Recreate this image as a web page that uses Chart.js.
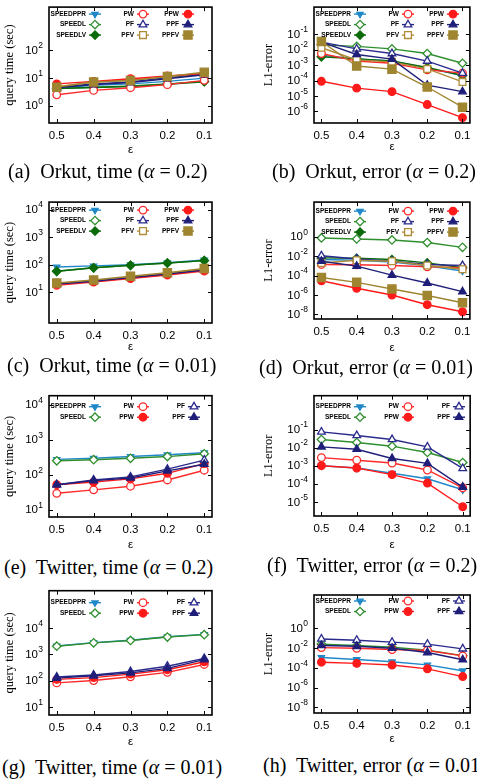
<!DOCTYPE html>
<html>
<head>
<meta charset="utf-8">
<script src="https://cdn.jsdelivr.net/npm/chart.js@4.4.1/dist/chart.umd.min.js"></script>
<style>
  body { margin: 0; background: #fff; }
  #page { position: relative; width: 477px; height: 779px; overflow: hidden; }
  canvas { position: absolute; }
  .cap { position: absolute; font-family: 'Liberation Serif', serif; font-size: 20px; line-height: 20px; white-space: nowrap; color: #000; }
</style>
</head>
<body>
<div id="page">
  <canvas id="chartA"></canvas>
  <canvas id="chartB"></canvas>
  <canvas id="chartC"></canvas>
  <canvas id="chartD"></canvas>
  <canvas id="chartE"></canvas>
  <canvas id="chartF"></canvas>
  <canvas id="chartG"></canvas>
  <canvas id="chartH"></canvas>
  <div class="cap" style="left:8px;top:161px">(a)&nbsp; Orkut, time (<i>α</i> = 0.2)</div>
  <div class="cap" style="left:272px;top:161px">(b)&nbsp; Orkut, error (<i>α</i> = 0.2)</div>
  <div class="cap" style="left:7px;top:355px">(c)&nbsp; Orkut, time (<i>α</i> = 0.01)</div>
  <div class="cap" style="left:259px;top:357px">(d)&nbsp; Orkut, error (<i>α</i> = 0.01)</div>
  <div class="cap" style="left:4px;top:557px">(e)&nbsp; Twitter, time (<i>α</i> = 0.2)</div>
  <div class="cap" style="left:267px;top:555px">(f)&nbsp; Twitter, error (<i>α</i> = 0.2)</div>
  <div class="cap" style="left:2px;top:757px">(g)&nbsp; Twitter, time (<i>α</i> = 0.01)</div>
  <div class="cap" style="left:263px;top:755px">(h)&nbsp; Twitter, error (<i>α</i> = 0.01)</div>
</div>
<script>
const eps = [0.5, 0.4, 0.3, 0.2, 0.1];
const xTicks = [0.5, 0.4, 0.3, 0.2, 0.1];

const names9 = ['SPEEDPPR', 'SPEEDL', 'SPEEDLV', 'PW', 'PF', 'PFV', 'PPW', 'PPF', 'PPFV'];
const names6 = ['SPEEDPPR', 'SPEEDL', 'PW', 'PPW', 'PF', 'PPF'];

// (a) Orkut, query time (sec), alpha = 0.2
const aSPEEDPPR = [4.5, 5.5, 6.2, 7.6, 10];
const aSPEEDL = [4.2, 4.7, 5.2, 6.2, 7.6];
const aSPEEDLV = [4.2, 4.6, 5.0, 6.0, 7.4];
const aPW = [2.5, 3.6, 4.5, 5.8, 8.3];
const aPF = [4.7, 6.2, 7.2, 10.5, 13.8];
const aPFV = [4.9, 7.2, 8.5, 11.2, 15];
const aPPW = [6.2, 7.6, 9.5, 12, 14.5];
const aPPF = [4.5, 5.8, 6.9, 9.5, 13.2];
const aPPFV = [4.7, 7.2, 8.1, 11.5, 16.2];

// (b) Orkut, L1-error, alpha = 0.2
const bSPEEDPPR = [4.3e-3, 2.5e-3, 1.8e-3, 6.3e-4, 2.1e-4];
const bSPEEDL = [2.0e-2, 1.6e-2, 1.1e-2, 5.5e-3, 1.3e-3];
const bSPEEDLV = [3.4e-3, 2.5e-3, 1.8e-3, 6.9e-4, 2.1e-4];
const bPW = [5.5e-3, 1.8e-3, 1.3e-3, 4.9e-4, 3.0e-4];
const bPF = [3.0e-2, 1.1e-2, 5.5e-3, 1.8e-3, 3.0e-4];
const bPFV = [1.3e-2, 2.1e-3, 1.6e-3, 5.6e-4, 8.1e-5];
const bPPW = [8.9e-5, 3.2e-5, 1.9e-5, 2.8e-6, 4.0e-7];
const bPPF = [3.0e-2, 4.8e-3, 2.4e-3, 5.0e-5, 1.9e-5];
const bPPFV = [3.3e-2, 8.7e-4, 5.4e-4, 3.8e-5, 1.9e-6];

// (c) Orkut, query time (sec), alpha = 0.01
const cSPEEDPPR = [83, 91, 100, 120, 151];
const cSPEEDL = [58, 78, 95, 115, 141];
const cSPEEDLV = [58, 78, 96, 116, 142];
const cPW = [18, 23.5, 31.6, 42.7, 59];
const cPF = [20.4, 26, 35.5, 48, 66];
const cPFV = [21, 26.8, 36.5, 49.5, 70];
const cPPW = [19.5, 24.5, 33, 44.7, 63];
const cPPF = [20, 25.3, 34.4, 46.5, 64];
const cPPFV = [22, 28, 38.3, 51.7, 73.5];

// (d) Orkut, L1-error, alpha = 0.01
const dSPEEDPPR = [4.5e-3, 3.8e-3, 2.4e-3, 1.0e-3, 3.0e-4];
const dSPEEDL = [0.74, 0.58, 0.46, 0.25, 0.08];
const dSPEEDLV = [6.6e-3, 6.0e-3, 4.5e-3, 2.0e-3, 6.3e-4];
const dPW = [1.4e-3, 1.3e-3, 1.1e-3, 8.1e-4, 6.5e-4];
const dPF = [1.1e-2, 5.1e-3, 3.0e-3, 1.4e-3, 1.1e-3];
const dPFV = [2.0e-3, 3.8e-3, 3.0e-3, 1.1e-3, 4.4e-4];
const dPPW = [2.9e-5, 4.9e-6, 1.0e-6, 1.0e-7, 1.9e-8];
const dPPF = [3.0e-3, 9.3e-4, 1.1e-4, 1.7e-5, 2.2e-6];
const dPPFV = [6.3e-5, 2.0e-5, 4.2e-6, 8.9e-7, 1.6e-7];

// (e) Twitter, query time (sec), alpha = 0.2
const eSPEEDPPR = [275, 295, 331, 372, 427];
const eSPEEDL = [251, 269, 295, 331, 398];
const ePW = [29.5, 37, 47, 71, 135];
const ePPW = [52, 62, 76, 110, 209];
const ePF = [52, 71, 87, 145, 263];
const ePPF = [52, 68, 81, 129, 200];

// (f) Twitter, L1-error, alpha = 0.2
const fSPEEDPPR = [1.0e-3, 7.4e-4, 3.8e-4, 1.9e-4, 4.7e-5];
const fSPEEDL = [2.8e-2, 1.9e-2, 1.2e-2, 5.4e-3, 1.5e-3];
const fPW = [2.8e-3, 2.0e-3, 1.4e-3, 5.8e-4, 6.0e-5];
const fPPW = [1.0e-3, 7.4e-4, 3.2e-4, 1.1e-4, 5.4e-6];
const fPF = [7.4e-2, 4.7e-2, 2.8e-2, 1.1e-2, 7.1e-4];
const fPPF = [1.1e-2, 8.1e-3, 2.5e-3, 1.35e-3, 6.6e-5];

// (g) Twitter, query time (sec), alpha = 0.01
const gSPEEDPPR = [2040, 2750, 3390, 4570, 5620];
const gSPEEDL = [2000, 2690, 3310, 4470, 5500];
const gPW = [81, 100, 138, 204, 407];
const gPPW = [110, 129, 174, 257, 513];
const gPF = [135, 162, 219, 347, 692];
const gPPF = [123, 151, 195, 288, 617];

// (h) Twitter, L1-error, alpha = 0.01
const hSPEEDPPR = [1.1e-3, 6.9e-4, 4.1e-4, 2.0e-4, 5.0e-5];
const hSPEEDL = [2.5e-2, 1.8e-2, 1.2e-2, 6.0e-3, 1.7e-3];
const hPW = [1.1e-2, 9.5e-3, 7.1e-3, 5.6e-3, 1.6e-3];
const hPPW = [3.7e-4, 2.8e-4, 1.9e-4, 7.9e-5, 1.3e-5];
const hPF = [8.3e-2, 6.2e-2, 3.9e-2, 2.5e-2, 8.3e-3];
const hPPF = [1.8e-2, 1.5e-2, 9.5e-3, 3.5e-3, 6.5e-4];

// y tick labels (powers of ten)
const ticksA = [1, 10, 100];
const ticksB = [1e-6, 1e-5, 1e-4, 1e-3, 1e-2, 1e-1];
const ticksC = [10, 100, 1000, 10000];
const ticksD = [1e-8, 1e-6, 1e-4, 1e-2, 1];
const ticksE = [10, 100, 1000, 10000];
const ticksF = [1e-5, 1e-4, 1e-3, 1e-2, 1e-1];
const ticksG = [10, 100, 1000, 10000];
const ticksH = [1e-8, 1e-6, 1e-4, 1e-2, 1];

const styles = {
  SPEEDPPR: { color: '#1f88c9', point: 'triangle', rot: 180, r: 3.6, fill: true },
  SPEEDL:   { color: '#2f8f2f', point: 'rectRot', r: 4.2, fill: false },
  SPEEDLV:  { color: '#0b6b0b', point: 'rectRot', r: 4.2, fill: true },
  PW:       { color: '#ff2a2a', point: 'circle', r: 3.8, fill: false },
  PPW:      { color: '#ff1a1a', point: 'circle', r: 3.8, fill: true },
  PF:       { color: '#2a2a8c', point: 'triangle', r: 4.4, fill: false },
  PPF:      { color: '#1f1f7a', point: 'triangle', r: 4.4, fill: true },
  PFV:      { color: '#b08c38', point: 'rect', r: 4.8, fill: false },
  PPFV:     { color: '#a08530', point: 'rect', r: 5.8, fill: true }
};

const FONT = '"Liberation Sans", Arial, sans-serif';

function series(name, values, i) {
  const s = styles[name];
  return {
    label: name,
    data: eps.map((e, k) => ({ x: e, y: values[k] })),
    borderColor: s.color,
    backgroundColor: s.color,
    borderWidth: 1.4,
    pointStyle: s.point,
    pointRotation: s.rot || 0,
    pointRadius: s.r,
    pointBorderWidth: 1.3,
    pointBorderColor: s.color,
    pointBackgroundColor: s.fill ? s.color : '#fff',
    order: -i
  };
}

// box around the plot, inward tick marks and 10^n labels on the y scale
const frame = {
  id: 'frame',
  afterDatasetsDraw(chart, args, opts) {
    const { ctx, chartArea: a, scales } = chart;
    ctx.save();
    ctx.strokeStyle = '#000';
    ctx.lineWidth = 1;
    ctx.beginPath();
    scales.y.ticks.forEach(t => {
      const y = Math.round(scales.y.getPixelForValue(t.value)) + 0.5;
      ctx.moveTo(a.left, y); ctx.lineTo(a.left + 4, y);
      ctx.moveTo(a.right, y); ctx.lineTo(a.right - 4, y);
    });
    scales.x.ticks.forEach(t => {
      const x = Math.round(scales.x.getPixelForValue(t.value)) + 0.5;
      ctx.moveTo(x, a.bottom); ctx.lineTo(x, a.bottom - 4);
      ctx.moveTo(x, a.top); ctx.lineTo(x, a.top + 4);
    });
    ctx.stroke();
    ctx.lineWidth = 1.6;
    ctx.strokeRect(a.left, a.top, a.right - a.left, a.bottom - a.top);

    ctx.fillStyle = '#000';
    ctx.textAlign = 'right';
    ctx.textBaseline = 'middle';
    scales.y.ticks.forEach(t => {
      const y = scales.y.getPixelForValue(t.value);
      const e = String(Math.round(Math.log10(t.value)));
      const xr = a.left - opts.pad;
      ctx.font = '8.5px ' + FONT;
      const ew = ctx.measureText(e).width;
      ctx.fillText(e, xr, y - 4.5);
      ctx.font = '11.5px ' + FONT;
      ctx.fillText('10', xr - ew - 0.3, y + 0.5);
    });
    ctx.restore();
  }
};

// gnuplot style key inside the plot: label, then line sample with marker
const boxLegend = {
  id: 'boxLegend',
  afterDatasetsDraw(chart, args, opts) {
    const { ctx, chartArea: a } = chart;
    ctx.save();
    ctx.font = 'bold 6.5px ' + FONT;
    ctx.textAlign = 'right';
    ctx.textBaseline = 'middle';
    chart.data.datasets.forEach((ds, i) => {
      const col = Math.floor(i / opts.rows);
      const row = i % opts.rows;
      const tx = a.left + opts.cols[col];
      const ty = a.top + opts.top + row * 10.5;
      ctx.fillStyle = '#000';
      ctx.fillText(ds.label, tx, ty);
      ctx.strokeStyle = ds.borderColor;
      ctx.lineWidth = 1.4;
      ctx.beginPath();
      ctx.moveTo(tx + 3, ty);
      ctx.lineTo(tx + 15, ty);
      ctx.stroke();
      ctx.fillStyle = ds.pointBackgroundColor;
      ctx.lineWidth = 1.3;
      Chart.helpers.drawPoint(ctx, {
        pointStyle: ds.pointStyle, rotation: ds.pointRotation,
        radius: ds.pointRadius, borderWidth: 1.3
      }, tx + 9, ty);
    });
    ctx.restore();
  }
};

const H = 165;

function drawPanel(p) {
  const canvas = document.getElementById(p.id);
  canvas.width = p.w;
  canvas.height = H;
  canvas.style.left = p.left + 'px';
  canvas.style.top = p.top + 'px';
  const [bl, bt, br, bb] = p.box;
  const xh = p.epsY - bb + 6.9;
  const names = p.values.length === 9 ? names9 : names6;

  new Chart(canvas, {
    type: 'line',
    data: { datasets: names.map((n, i) => series(n, p.values[i], i)) },
    options: {
      responsive: false,
      animation: false,
      events: [],
      layout: { padding: { left: 0, top: bt, right: p.w - br, bottom: H - bb - xh } },
      plugins: {
        legend: { display: false },
        tooltip: { enabled: false },
        frame: { pad: 6 },
        boxLegend: { rows: names.length === 9 ? 3 : 2, cols: names.length === 9 ? [37, 85, 130] : [37, 85, 136], top: p.legTop }
      },
      scales: {
        x: {
          type: 'linear',
          reverse: true,
          min: 0.079,
          max: 0.521,
          bounds: 'data',
          grid: { display: false, drawTicks: false },
          border: { display: false },
          afterBuildTicks: s => { s.ticks = xTicks.map(v => ({ value: v })); },
          afterFit: s => { s.height = xh; },
          ticks: {
            callback: v => v.toFixed(1),
            color: '#000',
            padding: 6,
            autoSkip: false,
            maxRotation: 0,
            font: { family: FONT, size: 11.5 }
          },
          title: {
            display: true,
            text: 'ε',
            color: '#000',
            padding: 0,
            font: { family: FONT, size: 11.5 }
          }
        },
        y: {
          type: 'logarithmic',
          min: p.yMin,
          max: p.yMax,
          bounds: 'data',
          grid: { display: false, drawTicks: false },
          border: { display: false },
          afterBuildTicks: s => { s.ticks = p.ticks.map(v => ({ value: v })); },
          afterFit: s => { s.width = bl; },
          ticks: { display: false },
          title: {
            display: true,
            text: p.yTitle,
            color: '#000',
            padding: { top: p.titleX - 7.5, bottom: 0 },
            font: { family: 'Liberation Serif', size: 12.5 }
          }
        }
      }
    },
    plugins: [frame, boxLegend]
  });
}

drawPanel({ id: 'chartA', left: 0, top: 0, w: 237, box: [49, 4, 212, 123], epsY: 150, legTop: 7,
  yMin: 0.24, yMax: 3630, ticks: ticksA, titleX: 10, yTitle: 'query time (sec)',
  values: [aSPEEDPPR, aSPEEDL, aSPEEDLV, aPW, aPF, aPFV, aPPW, aPPF, aPPFV] });

drawPanel({ id: 'chartB', left: 237, top: 0, w: 240, box: [77, 4, 239, 123], epsY: 147, legTop: 7,
  yMin: 1.8e-7, yMax: 5.5, ticks: ticksB, titleX: 32, yTitle: 'L1-error',
  values: [bSPEEDPPR, bSPEEDL, bSPEEDLV, bPW, bPF, bPFV, bPPW, bPPF, bPPFV] });

drawPanel({ id: 'chartC', left: 0, top: 195, w: 237, box: [49, 5, 212, 128], epsY: 152, legTop: 8,
  yMin: 0.78, yMax: 18600, ticks: ticksC, titleX: 10, yTitle: 'query time (sec)',
  values: [cSPEEDPPR, cSPEEDL, cSPEEDLV, cPW, cPF, cPFV, cPPW, cPPF, cPPFV] });

drawPanel({ id: 'chartD', left: 237, top: 195, w: 240, box: [77, 5, 239, 124], epsY: 153, legTop: 9,
  yMin: 3.4e-9, yMax: 3630, ticks: ticksD, titleX: 32, yTitle: 'L1-error',
  values: [dSPEEDPPR, dSPEEDL, dSPEEDLV, dPW, dPF, dPFV, dPPW, dPPF, dPPFV] });

drawPanel({ id: 'chartE', left: 0, top: 390, w: 237, box: [49, 4, 212, 127], epsY: 155, legTop: 11,
  yMin: 6.2, yMax: 18200, ticks: ticksE, titleX: 10, yTitle: 'query time (sec)',
  values: [eSPEEDPPR, eSPEEDL, ePW, ePPW, ePF, ePPF] });

drawPanel({ id: 'chartF', left: 237, top: 390, w: 240, box: [77, 4, 239, 126], epsY: 155, legTop: 11,
  yMin: 1.66e-6, yMax: 7.4, ticks: ticksF, titleX: 32, yTitle: 'L1-error',
  values: [fSPEEDPPR, fSPEEDL, fPW, fPPW, fPF, fPPF] });

drawPanel({ id: 'chartG', left: 0, top: 585, w: 237, box: [49, 4, 212, 130], epsY: 157, legTop: 12,
  yMin: 4.9, yMax: 257000, ticks: ticksG, titleX: 10, yTitle: 'query time (sec)',
  values: [gSPEEDPPR, gSPEEDL, gPW, gPPW, gPF, gPPF] });

drawPanel({ id: 'chartH', left: 237, top: 585, w: 240, box: [77, 10, 239, 128], epsY: 154, legTop: 6,
  yMin: 2.7e-9, yMax: 2290, ticks: ticksH, titleX: 32, yTitle: 'L1-error',
  values: [hSPEEDPPR, hSPEEDL, hPW, hPPW, hPF, hPPF] });
</script>
</body>
</html>
